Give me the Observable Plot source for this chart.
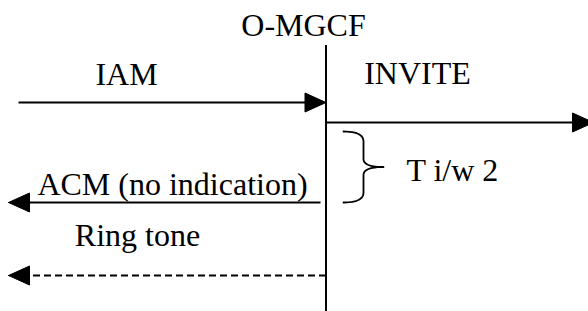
<!DOCTYPE html>
<html>
<head>
<meta charset="utf-8">
<script src="https://cdn.jsdelivr.net/npm/d3@7"></script>
<script src="https://cdn.jsdelivr.net/npm/@observablehq/plot@0.6"></script>
<style>
  html, body { margin: 0; padding: 0; background: white; }
  #chart svg { display: block; }
</style>
</head>
<body>
<div id="chart"></div>
<script>
// ---- Data (diagram units: horizontal position / time going down) ----
const lifelineLabel = "O-MGCF";
const lifelineX = 325.5;
const lifelineTop = 45;
const lifelineBottom = 311;
const lifelineLabelX = 303;
const lifelineLabelY = 35;

const messages = ["IAM", "INVITE", "ACM (no indication)", "Ring tone"];
const msgFrom = [18, 325.5, 320, 325.5];
const msgTo = [325.5, 593, 8, 8];
const msgTime = [102, 122, 202, 275];
const msgDashed = [false, false, false, true];
const msgLabelX = [126, 417, 172, 137];
const msgLabelY = [84, 83, 194, 245];

const timerLabel = "T i/w 2";
const timerStart = 131;
const timerEnd = 202;
const timerX = 343;
const timerLabelX = 406;
const timerLabelY = 180;

// ---- Derived tables ----
const headLen = 21, headHalf = 9.5;
const msgs = messages.map((m, i) => {
  const s = Math.sign(msgTo[i] - msgFrom[i]);
  return {
    label: m, x1: msgFrom[i], x2: msgTo[i] - s * headLen, tip: msgTo[i], s,
    y: msgTime[i], dashed: msgDashed[i], lx: msgLabelX[i], ly: msgLabelY[i]
  };
});
const heads = msgs.flatMap((d, i) => [
  {id: i, x: d.tip, y: d.y},
  {id: i, x: d.tip - d.s * headLen, y: d.y - headHalf},
  {id: i, x: d.tip - d.s * headLen, y: d.y + headHalf},
  {id: i, x: d.tip, y: d.y}
]);

// curly brace path points from timer interval
function quad(p0, p1, p2, n = 12) {
  const pts = [];
  for (let k = 0; k <= n; k++) {
    const t = k / n;
    pts.push({
      x: (1 - t) * (1 - t) * p0[0] + 2 * (1 - t) * t * p1[0] + t * t * p2[0],
      y: (1 - t) * (1 - t) * p0[1] + 2 * (1 - t) * t * p1[1] + t * t * p2[1]
    });
  }
  return pts;
}
const mid = (timerStart + timerEnd) / 2;
const bx = timerX + 20, tipX = timerX + 40;
const brace = [
  ...quad([timerX, timerStart], [bx, timerStart], [bx, timerStart + 10]),
  ...quad([bx, mid - 8], [bx, mid], [tipX, mid]),
  ...quad([tipX, mid], [bx, mid], [bx, mid + 8]),
  ...quad([bx, timerEnd - 10], [bx, timerEnd], [timerX, timerEnd])
];

const font = "'Liberation Serif', 'Times New Roman', serif";
const fs = 32;

const chart = Plot.plot({
  width: 588,
  height: 311,
  margin: 0,
  x: {domain: [0, 588], range: [0, 588], axis: null},
  y: {domain: [0, 311], range: [0, 311], axis: null},
  style: {background: "white", color: "black"},
  marks: [
    Plot.ruleX([lifelineX], {y1: lifelineTop, y2: lifelineBottom, stroke: "black", strokeWidth: 2}),
    Plot.link(msgs.filter(d => !d.dashed), {x1: "x1", x2: "x2", y1: "y", y2: "y", stroke: "black", strokeWidth: 2}),
    Plot.link(msgs.filter(d => d.dashed), {x1: "x1", x2: "x2", y1: "y", y2: "y", stroke: "black", strokeWidth: 2, strokeDasharray: "7,4"}),
    Plot.line(heads, {x: "x", y: "y", z: "id", fill: "black", stroke: "black", strokeWidth: 1}),
    Plot.line(brace, {x: "x", y: "y", stroke: "black", strokeWidth: 1.8, curve: "linear"}),
    Plot.text(msgs, {x: "lx", y: "ly", text: "label", textAnchor: "middle", lineAnchor: "bottom", fontFamily: font, fontSize: fs, fill: "black"}),
    Plot.text([lifelineLabel], {x: () => lifelineLabelX, y: () => lifelineLabelY, text: d => d, textAnchor: "middle", lineAnchor: "bottom", fontFamily: font, fontSize: fs, fill: "black"}),
    Plot.text([timerLabel], {x: () => timerLabelX, y: () => timerLabelY, text: d => d, textAnchor: "start", lineAnchor: "bottom", fontFamily: font, fontSize: fs, fill: "black"})
  ]
});
document.getElementById("chart").append(chart);
</script>
</body>
</html>
